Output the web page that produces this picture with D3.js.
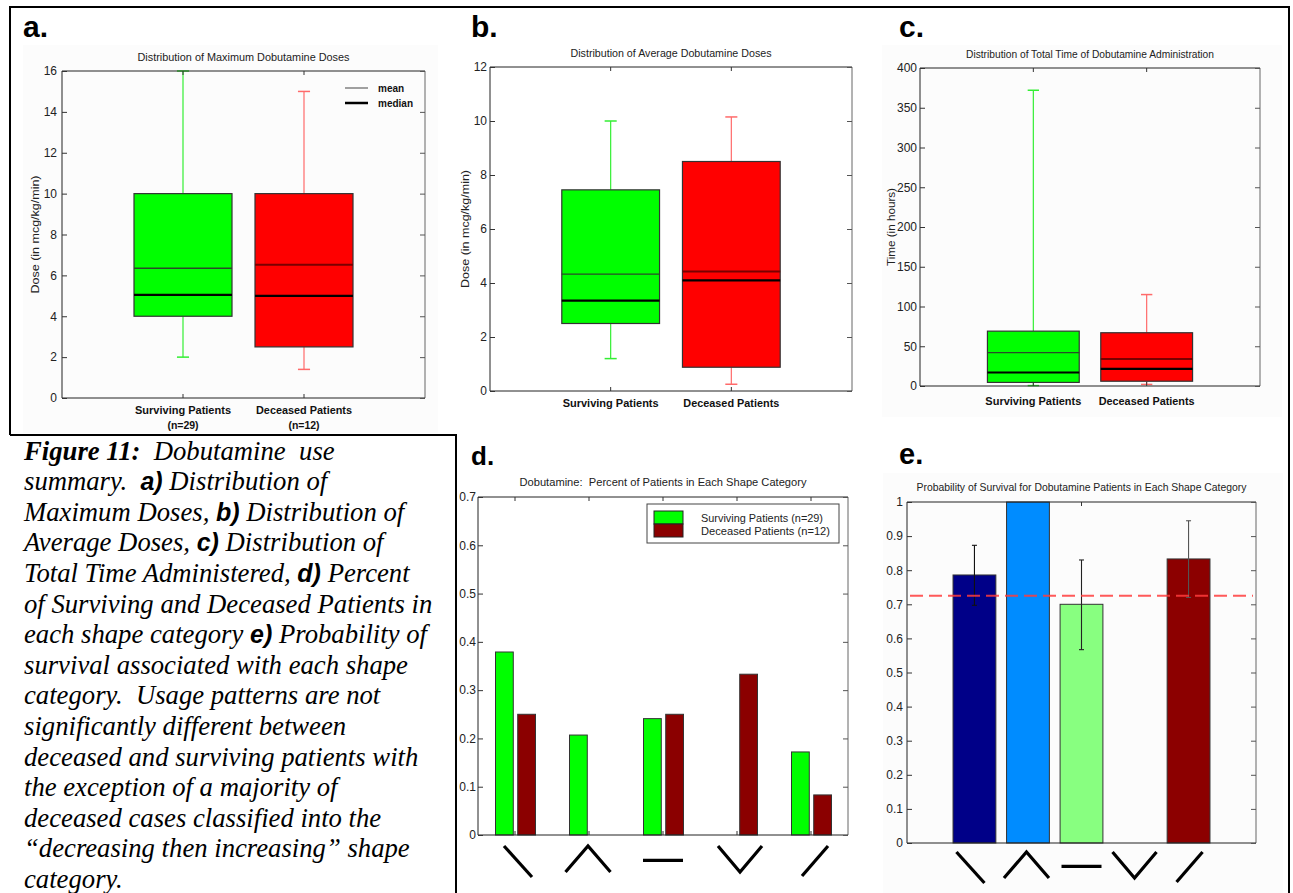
<!DOCTYPE html>
<html>
<head>
<meta charset="utf-8">
<script src="https://cdn.jsdelivr.net/npm/d3@7"></script>
<style>
  body { margin: 0; background: #fff; }
  svg text { font-family: "Liberation Sans", Arial, Helvetica, sans-serif; white-space: pre; }
  .caption text { font-family: "Liberation Serif", "Times New Roman", serif; font-style: italic; white-space: pre; }
</style>
</head>
<body>
<script>
// ---------- data ----------
const groups = ["Surviving Patients", "Deceased Patients"];
const groupSizes = ["(n=29)", "(n=12)"];

// maximum dose (mcg/kg/min)
const maxDoseLow    = [2.0, 1.4];
const maxDoseQ1     = [4.0, 2.5];
const maxDoseMedian = [5.05, 5.0];
const maxDoseMean   = [6.35, 6.52];
const maxDoseQ3     = [10.0, 10.0];
const maxDoseHigh   = [16.0, 15.0];

// average dose (mcg/kg/min)
const avgDoseLow    = [1.2, 0.25];
const avgDoseQ1     = [2.5, 0.88];
const avgDoseMedian = [3.35, 4.1];
const avgDoseMean   = [4.33, 4.43];
const avgDoseQ3     = [7.45, 8.5];
const avgDoseHigh   = [10.0, 10.15];

// total time of administration (hours)
const timeLow    = [0.5, 2];
const timeQ1     = [4.5, 6];
const timeMedian = [17, 21.5];
const timeMean   = [42, 34];
const timeQ3     = [69, 67];
const timeHigh   = [372, 115];

const maxDoseTicks = [0, 2, 4, 6, 8, 10, 12, 14, 16];
const avgDoseTicks = [0, 2, 4, 6, 8, 10, 12];
const timeTicks    = [0, 50, 100, 150, 200, 250, 300, 350, 400];

// shape categories
const shapes = ["decreasing", "increasing then decreasing", "constant", "decreasing then increasing", "increasing"];
const pctSurviving = [0.379, 0.207, 0.241, 0.0, 0.172];
const pctDeceased  = [0.25, 0.0, 0.25, 0.333, 0.083];
const pctTicks = [0, 0.1, 0.2, 0.3, 0.4, 0.5, 0.6, 0.7];

const survivalProb = [0.786, 1.0, 0.70, 0.0, 0.833];
const survivalLow  = [0.697, null, 0.567, null, 0.72];
const survivalHigh = [0.873, null, 0.83, null, 0.945];
const overallSurvival = 0.725;
const probTicks = [0, 0.1, 0.2, 0.3, 0.4, 0.5, 0.6, 0.7, 0.8, 0.9, 1];

// ---------- drawing ----------
const W = 1293, H = 893;
const svg = d3.select("body").append("svg")
  .attr("width", W).attr("height", H)
  .style("display", "block");

svg.append("rect").attr("width", W).attr("height", H).attr("fill", "#fff");

// faint figure backgrounds
[[23, 45, 415, 388], [882, 45, 400, 372], [883, 473, 400, 420]].forEach(r => {
  svg.append("rect").attr("x", r[0]).attr("y", r[1]).attr("width", r[2]).attr("height", r[3])
    .attr("fill", "#fcfcfc");
});

// outer frame
svg.append("path")
  .attr("d", "M10,435 L10,7 L1289,7 L1289,893 M10,435 L456,435 L456,893")
  .attr("fill", "none").attr("stroke", "#000").attr("stroke-width", 2);

function panelLetter(txt, x, y, size) {
  svg.append("text").attr("x", x).attr("y", y).text(txt)
    .attr("font-size", size).attr("font-weight", "bold").attr("fill", "#000");
}

function axesFrame(g, L, R, T, B) {
  g.append("line").attr("x1", L).attr("x2", R).attr("y1", T).attr("y2", T).attr("stroke", "#222");
  g.append("line").attr("x1", R).attr("x2", R).attr("y1", T).attr("y2", B).attr("stroke", "#666");
  g.append("line").attr("x1", L).attr("x2", L).attr("y1", T).attr("y2", B).attr("stroke", "#222");
  g.append("line").attr("x1", L).attr("x2", R).attr("y1", B).attr("y2", B).attr("stroke", "#222");
}

function yAxes(g, y, ticks, L, R, fmt, pad) {
  const left = g.append("g").attr("transform", `translate(${L},0)`)
    .call(d3.axisLeft(y).tickValues(ticks).tickSizeInner(-5).tickSizeOuter(0).tickPadding(pad).tickFormat(fmt));
  left.select(".domain").remove();
  left.selectAll("line").attr("stroke", "#333");
  left.selectAll("text").attr("font-size", 12).attr("fill", "#222").attr("font-family", "Liberation Sans, Arial, sans-serif");
  const right = g.append("g").attr("transform", `translate(${R},0)`)
    .call(d3.axisRight(y).tickValues(ticks).tickSizeInner(-5).tickSizeOuter(0).tickFormat(""));
  right.select(".domain").remove();
  right.selectAll("line").attr("stroke", "#555");
}

function title(g, txt, cx, y, len) {
  g.append("text").attr("x", cx).attr("y", y).attr("text-anchor", "middle")
    .attr("font-size", 10.5).attr("fill", "#222")
    .attr("textLength", len).attr("lengthAdjust", "spacingAndGlyphs").text(txt);
}

function yTitle(g, txt, x, cy, len) {
  g.append("text").attr("transform", `translate(${x},${cy}) rotate(-90)`)
    .attr("text-anchor", "middle").attr("font-size", 11.5).attr("fill", "#222")
    .attr("textLength", len).attr("lengthAdjust", "spacingAndGlyphs").text(txt);
}

const boxFill = ["#00ff00", "#ff0000"];
const whiskerColor = ["#33ee33", "#ff6a6a"];

function boxPanel(cfg) {
  const g = svg.append("g");
  const { L, R, T, B } = cfg;
  const x = d3.scaleLinear().domain([0, 3]).range([L, R]);
  const y = d3.scaleLinear().domain([0, cfg.ticks[cfg.ticks.length - 1]]).range([B, T]);
  const bw = (x(1) - x(0)) * 0.81;
  const cap = (x(1) - x(0)) * 0.1;

  title(g, cfg.title, (L + R) / 2, T - 10, cfg.titleLen);
  yTitle(g, cfg.yLabel, cfg.yLabelX, (T + B) / 2, cfg.yLabelLen);

  const pos = groups.map((d, i) => i + 1);
  const data = groups.map((name, i) => ({
    name, i, x: x(pos[i]),
    lo: cfg.lo[i], q1: cfg.q1[i], med: cfg.med[i], mean: cfg.mean[i], q3: cfg.q3[i], hi: cfg.hi[i]
  }));

  const bx = g.selectAll("g.box").data(data).join("g").attr("class", "box");
  // whiskers
  bx.append("line").attr("x1", d => d.x).attr("x2", d => d.x)
    .attr("y1", d => y(d.hi)).attr("y2", d => y(d.q3))
    .attr("stroke", d => whiskerColor[d.i]).attr("stroke-width", 1.2);
  bx.append("line").attr("x1", d => d.x).attr("x2", d => d.x)
    .attr("y1", d => y(d.q1)).attr("y2", d => y(d.lo))
    .attr("stroke", d => whiskerColor[d.i]).attr("stroke-width", 1.2);
  bx.append("line").attr("x1", d => d.x - cap / 2).attr("x2", d => d.x + cap / 2)
    .attr("y1", d => y(d.hi)).attr("y2", d => y(d.hi))
    .attr("stroke", d => whiskerColor[d.i]).attr("stroke-width", 1.5);
  bx.append("line").attr("x1", d => d.x - cap / 2).attr("x2", d => d.x + cap / 2)
    .attr("y1", d => y(d.lo)).attr("y2", d => y(d.lo))
    .attr("stroke", d => whiskerColor[d.i]).attr("stroke-width", 1.5);
  // box
  bx.append("rect").attr("x", d => d.x - bw / 2).attr("width", bw)
    .attr("y", d => y(d.q3)).attr("height", d => y(d.q1) - y(d.q3))
    .attr("fill", d => boxFill[d.i]).attr("stroke", "#333").attr("stroke-width", 1.2);
  // mean
  bx.append("line").attr("x1", d => d.x - bw / 2).attr("x2", d => d.x + bw / 2)
    .attr("y1", d => y(d.mean)).attr("y2", d => y(d.mean))
    .attr("stroke", d => d.i ? "#7a0000" : "#2a4a2a").attr("stroke-width", d => d.i ? 2 : 1.4);
  // median
  bx.append("line").attr("x1", d => d.x - bw / 2).attr("x2", d => d.x + bw / 2)
    .attr("y1", d => y(d.med)).attr("y2", d => y(d.med))
    .attr("stroke", "#000").attr("stroke-width", 2.2);

  axesFrame(g, L, R, T, B);
  yAxes(g, y, cfg.ticks, L, R, d3.format("d"), cfg.pad);
  // category ticks top and bottom (inward)
  pos.forEach(p => {
    g.append("line").attr("x1", x(p)).attr("x2", x(p)).attr("y1", T).attr("y2", T + 4).attr("stroke", "#333");
    g.append("line").attr("x1", x(p)).attr("x2", x(p)).attr("y1", B).attr("y2", B - 4).attr("stroke", "#333");
  });

  // category labels
  data.forEach(d => {
    g.append("text").attr("x", d.x).attr("y", B + cfg.labelDy).attr("text-anchor", "middle")
      .attr("font-size", 10.5).attr("font-weight", "bold").attr("fill", "#111")
      .attr("textLength", 96).attr("lengthAdjust", "spacingAndGlyphs").text(d.name);
    if (cfg.showN) {
      g.append("text").attr("x", d.x).attr("y", B + cfg.labelDy + 15).attr("text-anchor", "middle")
        .attr("font-size", 10.5).attr("font-weight", "bold").attr("fill", "#111").text(groupSizes[d.i]);
    }
  });
  return { g, x, y };
}

// ---- panel a ----
panelLetter("a.", 23, 37, 30);
const pa = boxPanel({
  L: 62, R: 425, T: 71, B: 398, ticks: maxDoseTicks, pad: 5,
  lo: maxDoseLow, q1: maxDoseQ1, med: maxDoseMedian, mean: maxDoseMean, q3: maxDoseQ3, hi: maxDoseHigh,
  title: "Distribution of Maximum Dobutamine Doses", titleLen: 212,
  yLabel: "Dose (in mcg/kg/min)", yLabelX: 39, yLabelLen: 118, labelDy: 16, showN: true
});
// legend for mean / median
{
  const lg = pa.g.append("g");
  lg.append("line").attr("x1", 345).attr("x2", 368).attr("y1", 88).attr("y2", 88).attr("stroke", "#444").attr("stroke-width", 1);
  lg.append("line").attr("x1", 345).attr("x2", 368).attr("y1", 103).attr("y2", 103).attr("stroke", "#000").attr("stroke-width", 2.5);
  lg.append("text").attr("x", 378).attr("y", 91.5).attr("font-size", 10).attr("font-weight", "bold").attr("fill", "#111").text("mean");
  lg.append("text").attr("x", 378).attr("y", 106.5).attr("font-size", 10).attr("font-weight", "bold").attr("fill", "#111").text("median");
}

// ---- panel b ----
panelLetter("b.", 471, 37, 30);
boxPanel({
  L: 490, R: 852, T: 67, B: 391, ticks: avgDoseTicks, pad: 3,
  lo: avgDoseLow, q1: avgDoseQ1, med: avgDoseMedian, mean: avgDoseMean, q3: avgDoseQ3, hi: avgDoseHigh,
  title: "Distribution of Average Dobutamine Doses", titleLen: 201,
  yLabel: "Dose (in mcg/kg/min)", yLabelX: 469, yLabelLen: 118, labelDy: 16, showN: false
});

// ---- panel c ----
panelLetter("c.", 899, 37, 30);
boxPanel({
  L: 920, R: 1260, T: 68, B: 386, ticks: timeTicks, pad: 3,
  lo: timeLow, q1: timeQ1, med: timeMedian, mean: timeMean, q3: timeQ3, hi: timeHigh,
  title: "Distribution of Total Time of Dobutamine Administration", titleLen: 248,
  yLabel: "Time (in hours)", yLabelX: 895, yLabelLen: 78, labelDy: 19, showN: false
});

// ---- shape glyphs drawn under a category axis ----
const glyphPts = {
  "decreasing": [[[-0.5, 0], [0.5, 1]]],
  "increasing then decreasing": [[[-0.5, 1], [0, 0], [0.5, 1]]],
  "constant": [[[-0.5, 0.55], [0.5, 0.55]]],
  "decreasing then increasing": [[[-0.5, 0], [0, 1], [0.5, 0]]],
  "increasing": [[[-0.5, 1], [0.5, 0]]]
};
const glyphSize = {
  "decreasing": [28, 31], "increasing then decreasing": [45, 26], "constant": [40, 26],
  "decreasing then increasing": [44, 26], "increasing": [26, 30]
};
function drawGlyphs(g, xc, top, shift) {
  shapes.forEach((s, i) => {
    const [w, h] = glyphSize[s];
    const cx = xc(s) + (shift[i] || 0);
    glyphPts[s].forEach(pts => {
      g.append("path")
        .attr("d", d3.line()(pts.map(p => [cx + p[0] * w, top + p[1] * h])))
        .attr("fill", "none").attr("stroke", "#000").attr("stroke-width", 3.2);
    });
  });
}

// ---- panel d ----
panelLetter("d.", 471, 465, 26);
{
  const g = svg.append("g");
  const L = 478, R = 848, T = 497, B = 835;
  const x = d3.scaleBand().domain(shapes).range([L, R]).padding(0);
  const sub = d3.scaleBand().domain(["surv", "dec"]).range([-19.5, 20.5]).paddingInner(0.2);
  const y = d3.scaleLinear().domain([0, 0.7]).range([B, T]);
  title(g, "Dobutamine:  Percent of Patients in Each Shape Category", (L + R) / 2, T - 11, 287);

  const cx = s => x(s) + x.bandwidth() / 2;
  const rows = shapes.map((s, i) => ({ s, surv: pctSurviving[i], dec: pctDeceased[i] }));
  const bars = [];
  rows.forEach(r => {
    bars.push({ s: r.s, key: "surv", v: r.surv });
    bars.push({ s: r.s, key: "dec", v: r.dec });
  });
  g.selectAll("rect.bar").data(bars.filter(b => b.v > 0)).join("rect").attr("class", "bar")
    .attr("x", b => cx(b.s) + sub(b.key)).attr("width", sub.bandwidth())
    .attr("y", b => y(b.v)).attr("height", b => B - y(b.v))
    .attr("fill", b => b.key === "surv" ? "#00ff00" : "#8b0000")
    .attr("stroke", "#333").attr("stroke-width", 1);

  axesFrame(g, L, R, T, B);
  yAxes(g, y, pctTicks, L, R, d => d === 0 ? "0" : d3.format(".1f")(d), 2);
  shapes.forEach(s => {
    g.append("line").attr("x1", cx(s)).attr("x2", cx(s)).attr("y1", T).attr("y2", T + 4).attr("stroke", "#333");
    g.append("line").attr("x1", cx(s)).attr("x2", cx(s)).attr("y1", B).attr("y2", B - 4).attr("stroke", "#333");
  });

  // legend
  const lg = g.append("g");
  lg.append("rect").attr("x", 647).attr("y", 504).attr("width", 192).attr("height", 39)
    .attr("fill", "#fff").attr("stroke", "#444").attr("stroke-width", 1);
  lg.append("rect").attr("x", 654).attr("y", 511).attr("width", 29).attr("height", 13)
    .attr("fill", "#00ff00").attr("stroke", "#222");
  lg.append("rect").attr("x", 654).attr("y", 524).attr("width", 29).attr("height", 13)
    .attr("fill", "#8b0000").attr("stroke", "#222");
  lg.append("text").attr("x", 701).attr("y", 522).attr("font-size", 11.5).attr("fill", "#222")
    .attr("textLength", 122).attr("lengthAdjust", "spacingAndGlyphs").text("Surviving Patients (n=29)");
  lg.append("text").attr("x", 701).attr("y", 535).attr("font-size", 11.5).attr("fill", "#222")
    .attr("textLength", 129).attr("lengthAdjust", "spacingAndGlyphs").text("Deceased Patients (n=12)");

  drawGlyphs(g, cx, B + 11, [3, -1, 0, 3, 4]);
}

// ---- panel e ----
panelLetter("e.", 899, 464, 29);
{
  const g = svg.append("g");
  const L = 907, R = 1256, T = 502, B = 843;
  const x = d3.scaleLinear().domain([-0.26, 6.26]).range([L, R]);
  const y = d3.scaleLinear().domain([0, 1]).range([B, T]);
  const bw = (x(1) - x(0)) * 0.8;
  const barColors = ["#000088", "#008cff", "#88ff80", "#00ffff", "#8c0000"];
  const errColors = ["#111", "#111", "#222", "#111", "#555"];
  title(g, "Probability of Survival for Dobutamine Patients in Each Shape Category", (L + R) / 2, T - 11, 330);

  const cx = s => x(shapes.indexOf(s) + 1);
  const rows = shapes.map((s, i) => ({ s, i, v: survivalProb[i], lo: survivalLow[i], hi: survivalHigh[i] }));
  g.selectAll("rect.bar").data(rows.filter(r => r.v > 0)).join("rect").attr("class", "bar")
    .attr("x", r => cx(r.s) - bw / 2).attr("width", bw)
    .attr("y", r => y(r.v)).attr("height", r => B - y(r.v))
    .attr("fill", r => barColors[r.i]).attr("stroke", "#333").attr("stroke-width", 1);

  // error bars
  const eb = rows.filter(r => r.lo != null);
  eb.forEach(r => {
    const X = cx(r.s);
    g.append("line").attr("x1", X).attr("x2", X).attr("y1", y(r.hi)).attr("y2", y(r.lo)).attr("stroke", errColors[r.i]).attr("stroke-width", 1.1);
    [r.lo, r.hi].forEach(v => g.append("line").attr("x1", X - 2.5).attr("x2", X + 2.5)
      .attr("y1", y(v)).attr("y2", y(v)).attr("stroke", errColors[r.i]).attr("stroke-width", 1.1));
  });

  // overall survival reference line
  g.append("line").attr("x1", L + 3).attr("x2", R - 3)
    .attr("y1", y(overallSurvival)).attr("y2", y(overallSurvival))
    .attr("stroke", "#ff3c3c").attr("stroke-opacity", 0.85).attr("stroke-width", 2)
    .attr("stroke-dasharray", "13,6");

  axesFrame(g, L, R, T, B);
  yAxes(g, y, probTicks, L, R, d => (d === 0 || d === 1) ? d3.format("d")(d) : d3.format(".1f")(d), 4);
  g.append("line").attr("x1", x(3)).attr("x2", x(3)).attr("y1", T).attr("y2", T + 4).attr("stroke", "#333");

  drawGlyphs(g, cx, B + 9, [-4, -1.5, 0, -0.5, 1]);
}

// ---- caption ----
const captionLines = [
  [["Figure 11:", "bi"], ["  Dobutamine  use", "i"]],
  [["summary.  ", "i"], ["a)", "s"], [" Distribution of", "i"]],
  [["Maximum Doses, ", "i"], ["b)", "s"], [" Distribution of", "i"]],
  [["Average Doses, ", "i"], ["c)", "s"], [" Distribution of", "i"]],
  [["Total Time Administered, ", "i"], ["d)", "s"], [" Percent", "i"]],
  [["of Surviving and Deceased Patients in", "i"]],
  [["each shape category ", "i"], ["e)", "s"], [" Probability of", "i"]],
  [["survival associated with each shape", "i"]],
  [["category.  Usage patterns are not", "i"]],
  [["significantly different between", "i"]],
  [["deceased and surviving patients with", "i"]],
  [["the exception of a majority of", "i"]],
  [["deceased cases classified into the", "i"]],
  [["\u201Cdecreasing then increasing\u201D shape", "i"]],
  [["category.", "i"]]
];
{
  const cg = svg.append("g").attr("class", "caption");
  captionLines.forEach((parts, li) => {
    const t = cg.append("text").attr("x", 24).attr("y", 459.5 + li * 30.6)
      .attr("font-size", 26.7).attr("fill", "#000");
    parts.forEach(([txt, kind]) => {
      const sp = t.append("tspan").text(txt);
      if (kind === "bi") sp.attr("font-weight", "bold");
      if (kind === "s") sp.attr("font-weight", "bold")
        .style("font-family", "Liberation Sans, Arial, sans-serif").attr("font-size", 25);
    });
  });
}
</script>
</body>
</html>
